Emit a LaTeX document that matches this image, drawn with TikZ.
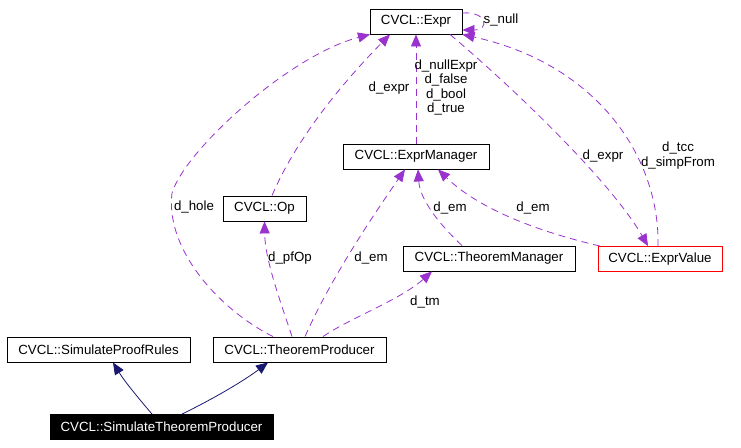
\documentclass[tikz,border=0pt]{standalone}
\usepackage{fontspec}
\setmainfont{Liberation Sans}
\usetikzlibrary{arrows.meta}
\definecolor{edgepurple}{HTML}{9A32CD}
\definecolor{edgenavy}{HTML}{191970}
\begin{document}
\begin{tikzpicture}[x=1pt,y=-1pt,
  txt/.style={font=\fontsize{13.3}{15}\selectfont},
  cls/.style={txt, draw=black, line width=0.9pt, inner sep=0pt, minimum height=25pt, anchor=center},
  uses/.style={draw=edgepurple, line width=0.8pt, dash pattern=on 7pt off 5pt, -{Triangle[length=12pt,width=10pt,fill=edgepurple]}},
  inherit/.style={draw=edgenavy, line width=0.8pt, -{Triangle[length=12pt,width=10pt,fill=edgenavy]}},
  lbl/.style={txt, inner sep=0pt, anchor=center}]
\useasboundingbox (0,0) rectangle (741,447);

% nodes
\node[cls, minimum width=92pt]  (expr) at (416,21.5) {CVCL::Expr};
\node[cls, minimum width=146pt] (em)   at (416,156.5) {CVCL::ExprManager};
\node[cls, minimum width=83pt]  (op)   at (264.5,208.5) {CVCL::Op};
\node[cls, minimum width=172pt] (tm)   at (489,258.5) {CVCL::TheoremManager};
\node[cls, minimum width=124pt, draw=red] (ev) at (660,259) {CVCL::ExprValue};
\node[cls, minimum width=183pt] (spr)  at (98.5,349.5) {CVCL::SimulateProofRules};
\node[cls, minimum width=173pt] (tp)   at (299.5,349.5) {CVCL::TheoremProducer};
\node[cls, minimum width=223pt, fill=black, text=white] (stp) at (161.5,427) {CVCL::SimulateTheoremProducer};

% inheritance
\draw[inherit] (stp.north -| 152,0) .. controls (140,400) and (125,382) .. (spr.south -| 113,0);
\draw[inherit] (stp.north -| 182,0) .. controls (215,398) and (245,380) .. (tp.south -| 268,0);

% usage
\draw[uses] (tp.north -| 273,0) .. controls (220,310) and (165,250) .. (172,193)
  .. controls (185,150) and (290,55) .. (expr.south -| 370,0);
\draw[uses] (tp.north -| 292,0) .. controls (280,300) and (265,260) .. (op.south);
\draw[uses] (op.north -| 272,0) .. controls (300,130) and (355,70) .. (expr.south -| 390,0);
\draw[uses] (tp.north -| 305,0) .. controls (330,280) and (370,220) .. (em.south -| 405,0);
\draw[uses] (tp.north -| 323,0) .. controls (350,318) and (400,300) .. (tm.south -| 432,0);
\draw[uses] (tm.north -| 462,0) .. controls (440,225) and (420,200) .. (em.south -| 418,0);
\draw[uses] (ev.north -| 600,0) .. controls (540,232) and (480,210) .. (em.south -| 438,0);
\draw[uses] (em.north) -- (expr.south);
\draw[uses] (expr.south -| 450,0) .. controls (510,85) and (610,180) .. (ev.north -| 648,0);
\draw[uses] (ev.north -| 658,0) .. controls (660,160) and (600,65) .. (expr.south east);
\draw[uses] (expr.east |- 0,13) .. controls (487,11) and (490,30) .. (expr.east |- 0,30);

% labels
\node[lbl] (lhole) at (194,207) {d\_hole};
\node[lbl] (lpfop) at (290,258) {d\_pfOp};
\node[lbl] (lemtp) at (371,258) {d\_em};
\node[lbl] (lexpr1) at (389,88) {d\_expr};
\node[lbl, align=center, font=\fontsize{13.3}{14.5}\selectfont] (lnull) at (446,87.5) {d\_nullExpr\\d\_false\\d\_bool\\d\_true};
\node[lbl] (lemtm) at (450,208) {d\_em};
\node[lbl] (lemev) at (533,208) {d\_em};
\node[lbl] (ltm) at (425,302) {d\_tm};
\node[lbl] (lexpr2) at (603,156) {d\_expr};
\node[lbl, align=center, font=\fontsize{13.3}{15}\selectfont] (ltcc) at (678,155.5) {d\_tcc\\d\_simpFrom};
\node[lbl] (lsnull) at (501,20) {s\_null};
\end{tikzpicture}
\end{document}
